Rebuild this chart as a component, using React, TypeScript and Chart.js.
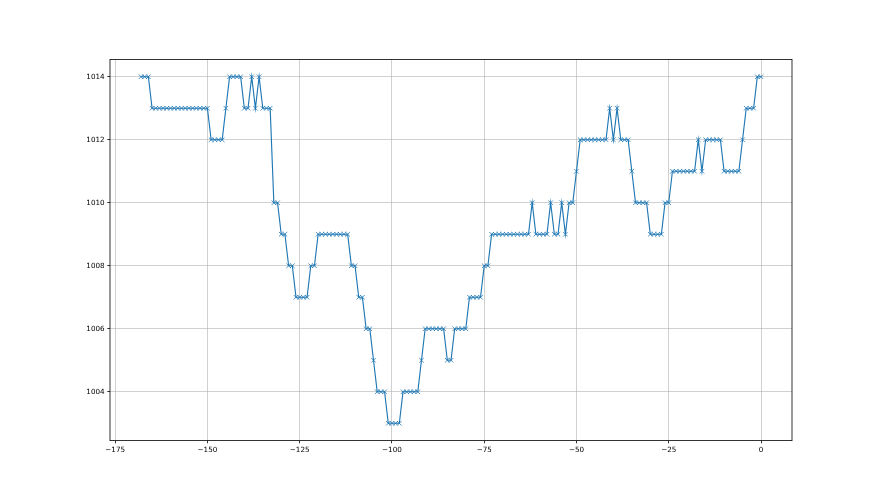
import React, { useEffect, useRef } from "react";
import { Chart, registerables } from "chart.js";

Chart.register(...registerables);

// Hours relative to now (one reading per hour, -168 .. 0)
const hourStart = -168;
// Pressure readings (hPa), one per hour from -168 to 0
const pressure: number[] = [
  1014, 1014, 1014,
  1013, 1013, 1013, 1013, 1013, 1013, 1013, 1013, 1013, 1013, 1013, 1013, 1013, 1013, 1013, 1013,
  1012, 1012, 1012, 1012,
  1013,
  1014, 1014, 1014, 1014,
  1013, 1013,
  1014,
  1013,
  1014,
  1013, 1013, 1013,
  1010, 1010,
  1009, 1009,
  1008, 1008,
  1007, 1007, 1007, 1007,
  1008, 1008,
  1009, 1009, 1009, 1009, 1009, 1009, 1009, 1009, 1009,
  1008, 1008,
  1007, 1007,
  1006, 1006,
  1005,
  1004, 1004, 1004,
  1003, 1003, 1003, 1003,
  1004, 1004, 1004, 1004, 1004,
  1005,
  1006, 1006, 1006, 1006, 1006, 1006,
  1005, 1005,
  1006, 1006, 1006, 1006,
  1007, 1007, 1007, 1007,
  1008, 1008,
  1009, 1009, 1009, 1009, 1009, 1009, 1009, 1009, 1009, 1009, 1009,
  1010,
  1009, 1009, 1009, 1009,
  1010,
  1009, 1009,
  1010,
  1009,
  1010, 1010,
  1011,
  1012, 1012, 1012, 1012, 1012, 1012, 1012, 1012,
  1013,
  1012,
  1013,
  1012, 1012, 1012,
  1011,
  1010, 1010, 1010, 1010,
  1009, 1009, 1009, 1009,
  1010, 1010,
  1011, 1011, 1011, 1011, 1011, 1011, 1011,
  1012,
  1011,
  1012, 1012, 1012, 1012, 1012,
  1011, 1011, 1011, 1011, 1011,
  1012,
  1013, 1013, 1013,
  1014, 1014,
];

const xTicks = [-175, -150, -125, -100, -75, -50, -25, 0];
const yTicks = [1004, 1006, 1008, 1010, 1012, 1014];

const fmt = (v: number) => (v < 0 ? "\u2212" + Math.abs(v) : String(v));

const framePlugin = {
  id: "frame",
  afterDraw(chart: any) {
    const { ctx, chartArea } = chart;
    ctx.save();
    ctx.strokeStyle = "#000";
    ctx.lineWidth = 0.8;
    ctx.strokeRect(chartArea.left, chartArea.top, chartArea.right - chartArea.left, chartArea.bottom - chartArea.top);
    ctx.restore();
  },
};

export default function App() {
  const ref = useRef<HTMLCanvasElement | null>(null);
  useEffect(() => {
    if (!ref.current) return;
    const points = pressure.map((p, i) => ({ x: hourStart + i, y: p }));
    const chart = new Chart(ref.current, {
      type: "line",
      data: {
        datasets: [
          {
            data: points,
            borderColor: "#1f77b4",
            borderWidth: 1.15,
            pointStyle: "crossRot",
            pointRadius: 3.2,
            pointBorderWidth: 0.8,
            pointBorderColor: "#1f77b4",
            pointBackgroundColor: "#1f77b4",
            tension: 0,
          },
        ],
      },
      options: {
        animation: false,
        responsive: false,
        maintainAspectRatio: false,
        layout: { padding: { left: 0, right: 88, top: 59.4, bottom: 0 } },
        plugins: { legend: { display: false }, tooltip: { enabled: false } },
        scales: {
          x: {
            type: "linear",
            min: -176.4,
            max: 8.4,
            afterBuildTicks: (s: any) => {
              s.ticks = xTicks.map((v) => ({ value: v }));
            },
            afterFit: (s: any) => {
              s.height = 495 - 440.6;
            },
            grid: {
              color: "#b0b0b0",
              lineWidth: 0.6,
              drawTicks: true,
              tickLength: 2.7,
              tickColor: "#000",
              tickWidth: 0.8,
            },
            border: { display: false },
            ticks: {
              color: "#000",
              padding: 2.7,
              maxRotation: 0,
              autoSkip: false,
              font: { family: "DejaVu Sans", size: 7.2 },
              callback: (v: any) => fmt(Number(v)),
            },
          },
          y: {
            type: "linear",
            min: 1002.45,
            max: 1014.55,
            afterBuildTicks: (s: any) => {
              s.ticks = yTicks.map((v) => ({ value: v }));
            },
            afterFit: (s: any) => {
              s.width = 110;
            },
            grid: {
              color: "#b0b0b0",
              lineWidth: 0.6,
              drawTicks: true,
              tickLength: 2.7,
              tickColor: "#000",
              tickWidth: 0.8,
            },
            border: { display: false },
            ticks: {
              color: "#000",
              padding: 2.7,
              autoSkip: false,
              font: { family: "DejaVu Sans", size: 7.2 },
              callback: (v: any) => String(v),
            },
          },
        },
      },
      plugins: [framePlugin],
    });
    return () => chart.destroy();
  }, []);
  return (
    <div style={{ position: "fixed", left: 0, top: 0, width: 880, height: 495, background: "#fff" }}>
      <canvas ref={ref} width={880} height={495} style={{ width: 880, height: 495 }} />
    </div>
  );
}
